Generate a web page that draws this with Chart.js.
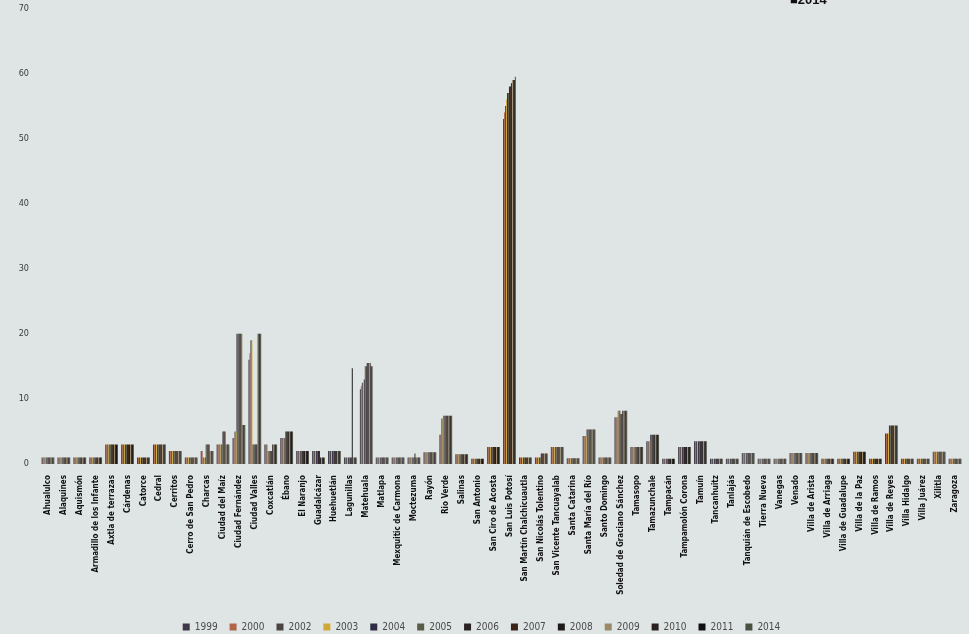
<!DOCTYPE html>
<html>
<head>
<meta charset="utf-8">
<script src="https://cdn.jsdelivr.net/npm/chart.js@4.4.1/dist/chart.umd.min.js"></script>
<style>
  html, body { margin: 0; padding: 0; background: #dee5e4; }
  #wrap { position: relative; width: 969px; height: 634px; overflow: hidden; }
  #topNote { position: absolute; left: 790px; top: -8px; font: bold 13px "Liberation Sans", sans-serif; color: #111; }
</style>
</head>
<body>
<div id="wrap">
  <div id="topNote">■2014</div>
  <canvas id="chart" width="969" height="634"></canvas>
</div>
<script>
const municipios = ["Ahualulco", "Alaquines", "Aquismón", "Armadillo de los Infante", "Axtla de terrazas", "Cárdenas", "Catorce", "Cedral", "Cerritos", "Cerro de San Pedro",
    "Charcas", "Ciudad del Maíz", "Ciudad Fernández", "Ciudad Valles", "Coxcatlán", "Ébano", "El Naranjo", "Guadalcázar", "Huehuetlán", "Lagunillas",
    "Matehuala", "Matlapa", "Mexquitic de Carmona", "Moctezuma", "Rayón", "Rio Verde", "Salinas", "San Antonio", "San Ciro de Acosta", "San Luis Potosí",
    "San Martín Chalchicuautla", "San Nicolás Tolentino", "San Vicente Tancuayalab", "Santa Catarina", "Santa María del Río", "Santo Domingo", "Soledad de Graciano Sánchez", "Tamasopo", "Tamazunchale", "Tampacán",
    "Tampamolón Corona", "Tamuín", "Tancanhuitz", "Tanlajás", "Tanquián de Escobedo", "Tierra Nueva", "Vanegas", "Venado", "Villa de Arista", "Villa de Arriaga",
    "Villa de Guadalupe", "Villa de la Paz", "Villa de Ramos", "Villa de Reyes", "Villa Hidalgo", "Villa Juárez", "Xilitla", "Zaragoza"];

const years = ["1999", "2000", "2002", "2003", "2004", "2005", "2006", "2007", "2008", "2009", "2010", "2011", "2014"];
const colors = ["#3e3848", "#b0654a", "#4a4444", "#d0a838", "#302c44", "#5a5c48", "#2a2222", "#3a2418", "#1e1a1a", "#9a8a6a", "#2a2020", "#121010", "#4a5040"];

const v1999 = [1,1,1,1,3,3,1,3,2,1, 2,3,4,16,3,4, 2,2,2,1,11.5, 1,1,1,1.8,4.5,1.5,0.8,2.6,53, 1,1,2.6,0.9,4.3,1,7.2,2.6,3.5,0.8, 2.6,3.5,0.8,0.8,1.7,0.8,0.8,1.7,1.7,0.8, 0.8,1.9,0.8,4.7,0.8,0.8,1.9,0.8];
const v2000 = [1,1,1,1,3,3,1,3,2,1, 2,3,4,17,3,4, 2,2,2,1,12, 1,1,1,1.8,4.5,1.5,0.8,2.6,54, 1,1,2.6,0.9,4.3,1,7.2,2.6,3.5,0.8, 2.6,3.5,0.8,0.8,1.7,0.8,0.8,1.7,1.7,0.8, 0.8,1.9,0.8,4.7,0.8,0.8,1.9,0.8];
const v2002 = [1,1,1,1,3,3,1,3,2,1, 1,3,5,19,3,4, 2,2,2,1,12.5, 1,1,1,1.8,7,1.5,0.8,2.6,55, 1,1,2.6,0.9,4.3,1,7.2,2.6,3.5,0.8, 2.6,3.5,0.8,0.8,1.7,0.8,0.8,1.7,1.7,0.8, 0.8,1.9,0.8,4.7,0.8,0.8,1.9,0.8];
const v2003 = [1,1,1,1,3,3,1,3,2,1, 1,3,5,19,2,4, 2,2,2,1,12.5, 1,1,1,1.8,7,1.5,0.8,2.6,56, 1,1,2.6,0.9,4.3,1,8.2,2.6,3.5,0.8, 2.6,3.5,0.8,0.8,1.7,0.8,0.8,1.7,1.7,0.8, 0.8,1.9,0.8,4.7,0.8,0.8,1.9,0.8];
const v2004 = [1,1,1,1,3,3,1,3,2,1, 1,3,20,3,2,4, 2,2,2,1,13, 1,1,1,1.8,7.4,1.5,0.8,2.6,57, 1,1,2.6,0.9,5.3,1,8.2,2.6,4.5,0.8, 2.6,3.5,0.8,0.8,1.7,0.8,0.8,1.7,1.7,0.8, 0.8,1.9,0.8,5.9,0.8,0.8,1.9,0.8];
const v2005 = [1,1,1,1,3,3,1,3,2,1, 3,3,20,3,2,5, 2,2,2,1,15, 1,1,1,1.8,7.4,1.5,0.8,2.6,57, 1,1,2.6,0.9,5.3,1,8.2,2.6,4.5,0.8, 2.6,3.5,0.8,0.8,1.7,0.8,0.8,1.7,1.7,0.8, 0.8,1.9,0.8,5.9,0.8,0.8,1.9,0.8];
const v2006 = [1,1,1,1,3,3,1,3,2,1, 3,5,20,3,2,5, 2,2,2,1,15, 1,1,1,1.8,7.4,1.5,0.8,2.6,58, 1,1.6,2.6,0.9,5.3,1,7.7,2.6,4.5,0.8, 2.6,3.5,0.8,0.8,1.7,0.8,0.8,1.7,1.7,0.8, 0.8,1.9,0.8,5.9,0.8,0.8,1.9,0.8];
const v2007 = [1,1,1,1,3,3,1,3,2,1, 3,5,20,3,2,5, 2,2,2,1,15.5, 1,1,1.6,1.8,7.4,1.5,0.8,2.6,58, 1,1.6,2.6,0.9,5.3,1,7.7,2.6,4.5,0.8, 2.6,3.5,0.8,0.8,1.7,0.8,0.8,1.7,1.7,0.8, 0.8,1.9,0.8,5.9,0.8,0.8,1.9,0.8];
const v2008 = [1,1,1,1,3,3,1,3,2,1, 3,5,20,3,3,5, 2,1,2,14.7,15.5, 1,1,1,1.8,7.4,1.5,0.8,2.6,58.5, 1,1.6,2.6,0.9,5.3,1,8.2,2.6,4.5,0.8, 2.6,3.5,0.8,0.8,1.7,0.8,0.8,1.7,1.7,0.8, 0.8,1.9,0.8,5.9,0.8,0.8,1.9,0.8];
const v2009 = [1,1,1,1,3,3,1,3,2,1, 2,3,20,20,3,5, 2,1,2,1,15.5, 1,1,1,1.8,7.4,1.5,0.8,2.6,59, 1,1.6,2.6,0.9,5.3,1,8.2,2.6,4.5,0.8, 2.6,3.5,0.8,0.8,1.7,0.8,0.8,1.7,1.7,0.8, 0.8,1.9,0.8,5.9,0.8,0.8,1.9,0.8];
const v2010 = [1,1,1,1,3,3,1,3,2,1, 2,3,6,20,3,5, 2,1,2,1,15.5, 1,1,1,1.8,7.4,1.5,0.8,2.6,59, 1,1.6,2.6,0.9,5.3,1,8.2,2.6,4.5,0.8, 2.6,3.5,0.8,0.8,1.7,0.8,0.8,1.7,1.7,0.8, 0.8,1.9,0.8,5.9,0.8,0.8,1.9,0.8];
const v2011 = [1,1,1,1,3,3,1,3,2,1, 2,3,6,20,3,5, 2,1,2,1,15, 1,1,1,1.8,7.4,1.5,0.8,2.6,59, 1,1.6,2.6,0.9,5.3,1,8.2,2.6,4.5,0.8, 2.6,3.5,0.8,0.8,1.7,0.8,0.8,1.7,1.7,0.8, 0.8,1.9,0.8,5.9,0.8,0.8,1.9,0.8];
const v2014 = [1,1,1,1,3,3,1,3,2,1, 2,3,6,20,3,5, 2,1,2,1,15, 1,1,1,1.8,7.4,1.5,0.8,2.6,59.5, 1,1.6,2.6,0.9,5.3,1,8.2,2.6,4.5,0.8, 2.6,3.5,0.8,0.8,1.7,0.8,0.8,1.7,1.7,0.8, 0.8,1.9,0.8,5.9,0.8,0.8,1.9,0.8];

const seriesValues = [v1999, v2000, v2002, v2003, v2004, v2005, v2006, v2007, v2008, v2009, v2010, v2011, v2014];

const narrow = "'Liberation Sans Narrow', 'DejaVu Sans Condensed', 'Liberation Sans', sans-serif";

const ctx = document.getElementById("chart").getContext("2d");
const chart = new Chart(ctx, {
    type: "bar",
    data: {
        labels: municipios,
        datasets: years.map((y, i) => ({
            label: y,
            data: seriesValues[i],
            backgroundColor: colors[i],
            borderWidth: 0,
            categoryPercentage: 0.8,
            barPercentage: 1.0
        }))
    },
    options: {
        responsive: false,
        animation: false,
        layout: { padding: { top: 6, right: 6, bottom: -8, left: 0 } },
        scales: {
            x: {
                grid: { display: false },
                border: { display: false },
                ticks: {
                    autoSkip: false,
                    minRotation: 90,
                    maxRotation: 90,
                    padding: 3,
                    color: "#111",
                    font: { family: narrow, size: 8, weight: "bold" }
                },
                afterFit: function (scale) { scale.height = 146; }
            },
            y: {
                min: 0,
                max: 70,
                grid: { display: false },
                border: { display: false },
                ticks: {
                    stepSize: 10,
                    padding: 3,
                    color: "#3a3a3a",
                    font: { family: narrow, size: 9 }
                },
                afterFit: function (scale) { scale.width = 40; }
            }
        },
        plugins: {
            legend: {
                position: "bottom",
                labels: {
                    boxWidth: 7,
                    boxHeight: 7,
                    padding: 12,
                    color: "#4a4a4a",
                    font: { family: narrow, size: 10 }
                }
            },
            tooltip: { enabled: false }
        }
    }
});
</script>
</body>
</html>
